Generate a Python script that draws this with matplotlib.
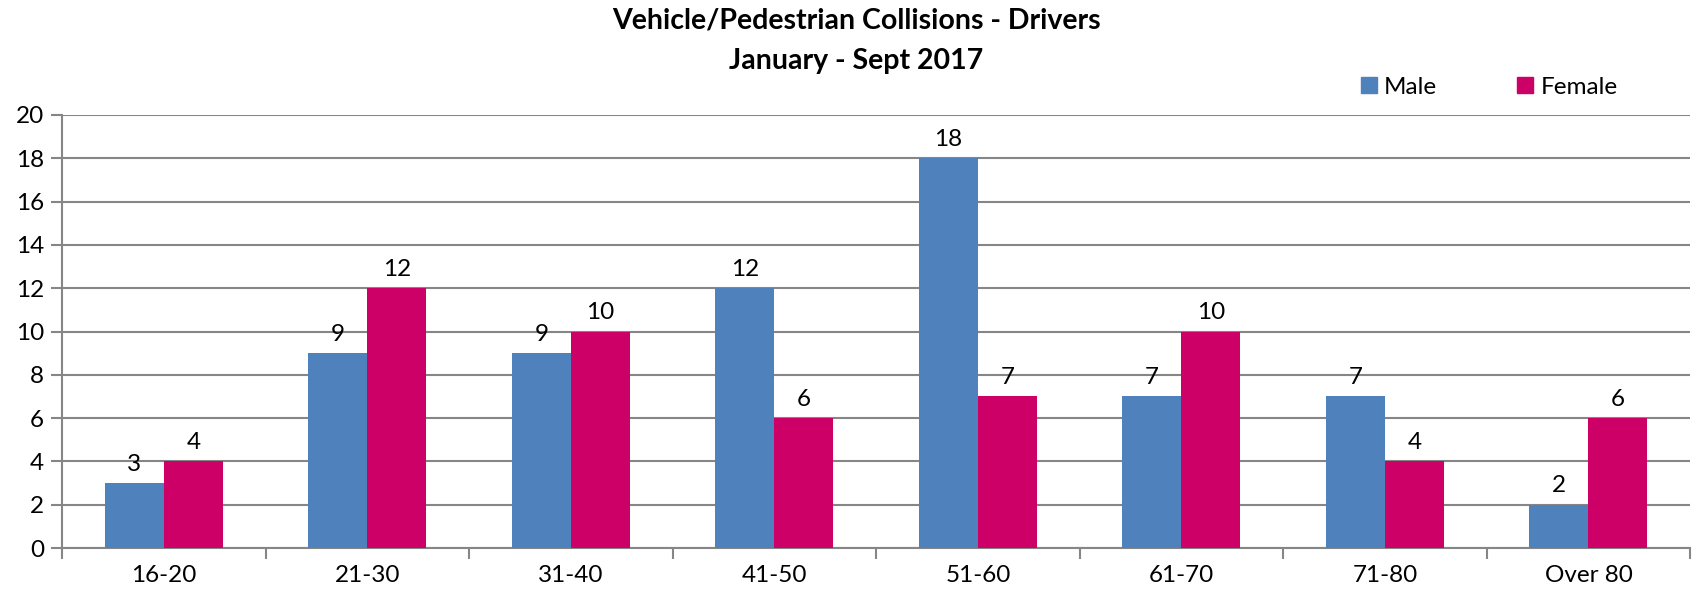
import numpy as np
import matplotlib.pyplot as plt
from matplotlib.patches import Patch

categories = ['16-20', '21-30', '31-40', '41-50', '51-60', '61-70', '71-80', 'Over 80']
male = [3, 9, 9, 12, 18, 7, 7, 2]
female = [4, 12, 10, 6, 7, 10, 4, 6]
yticks = [0, 2, 4, 6, 8, 10, 12, 14, 16, 18, 20]

blue = '#4f81bd'
pink = '#cc0066'
grid = '#868686'

plt.rcParams['font.family'] = ['Lato', 'DejaVu Sans']

fig = plt.figure(figsize=(16.96, 5.94), dpi=100)
ax = fig.add_axes([0.0366, 0.0774, 0.96, 0.729])

x = np.arange(len(categories))
w = 0.29
ax.bar(x - w / 2, male, w, color=blue, zorder=3)
ax.bar(x + w / 2, female, w, color=pink, zorder=3)

for xi, v in zip(x - w / 2, male):
    ax.annotate(str(v), (xi, v), xytext=(0, 6), textcoords='offset points',
                ha='center', va='bottom', fontsize=17.5)
for xi, v in zip(x + w / 2, female):
    ax.annotate(str(v), (xi, v), xytext=(0, 6), textcoords='offset points',
                ha='center', va='bottom', fontsize=17.5)

ax.set_xlim(-0.5, len(categories) - 0.5)
ax.set_ylim(0, 20)
ax.set_yticks(yticks)
ax.tick_params(axis='y', labelsize=17.5, length=8, color=grid, width=1.5, pad=5)
ax.yaxis.grid(True, color=grid, linewidth=1.5, zorder=0)

ax.set_xticks(x)
ax.set_xticklabels(categories)
ax.tick_params(axis='x', which='major', length=0, labelsize=17.5, pad=12)
ax.set_xticks(np.arange(-0.5, len(categories)), minor=True)
ax.tick_params(axis='x', which='minor', length=8, color=grid, width=1.5)

for s in ['top', 'right']:
    ax.spines[s].set_visible(False)
for s in ['left', 'bottom']:
    ax.spines[s].set_color(grid)
    ax.spines[s].set_linewidth(1.5)

fig.text(0.505, 0.966, 'Vehicle/Pedestrian Collisions - Drivers', ha='center', va='center',
         fontsize=20.5, fontweight='bold')
fig.text(0.505, 0.898, 'January - Sept 2017', ha='center', va='center',
         fontsize=20.5, fontweight='bold')

handles = [Patch(color=blue, label='Male'), Patch(color=pink, label='Female')]
fig.legend(handles=handles, loc='center', bbox_to_anchor=(0.878, 0.853), ncol=2,
           frameon=False, fontsize=17.5, handlelength=0.65, handleheight=0.65,
           handletextpad=0.3, columnspacing=3.3)

fig.savefig('out.png', dpi=100)
